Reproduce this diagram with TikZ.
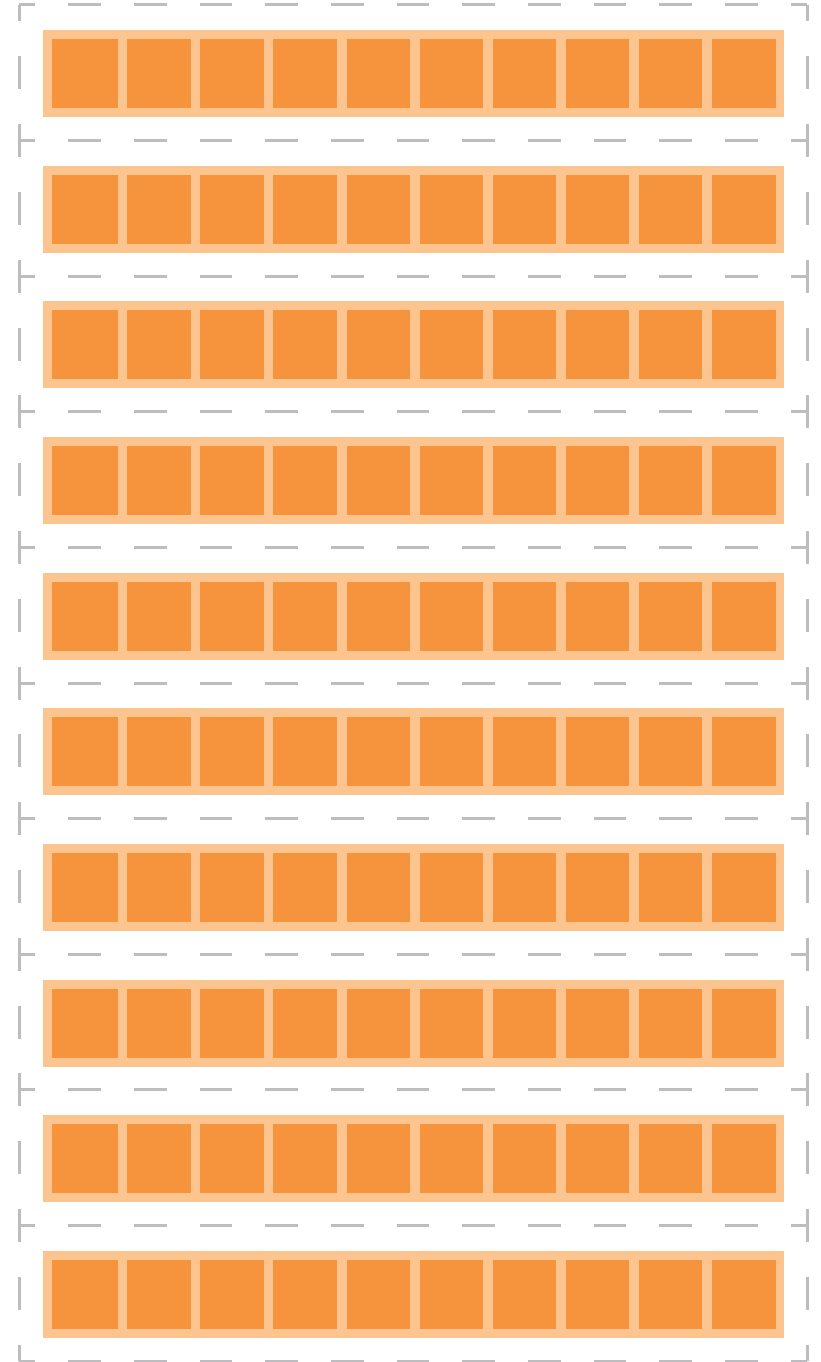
\documentclass[tikz,border=0pt]{standalone}
\definecolor{gridgray}{RGB}{189,189,192}
\definecolor{cellfill}{RGB}{245,148,61}
\definecolor{cellband}{RGB}{252,197,143}
\begin{document}
\begin{tikzpicture}[x=1pt,y=-1pt,
  hdash/.style={draw=gridgray,line width=3pt,dash pattern=on 32.8pt off 32.87pt,dash phase=16.4pt},
  vdash/.style={draw=gridgray,line width=3pt,dash pattern=on 33pt off 34.8pt,dash phase=16.5pt},
  band/.style={fill=cellband},
  cellsq/.style={fill=cellfill}]
\useasboundingbox (0,0) rectangle (821,1362);
\foreach \k in {0,...,10} {
  \draw[hdash] (19,{5+135.6*\k}) -- (807,{5+135.6*\k});
}
\foreach \k in {0,...,9} {
  \draw[vdash] (19,{5+135.6*\k}) -- (19,{5+135.6*(\k+1)});
  \draw[vdash] (807,{5+135.6*\k}) -- (807,{5+135.6*(\k+1)});
}
\foreach \k in {0,...,9} {
  \pgfmathsetmacro\t{30+135.67*\k}
  \fill[band] (43,\t) rectangle (784,{\t+87});
  \foreach \l/\r in {52/118,127/191,200/264,273/337,347/410,420/483,493/556,566/629,639/702,712/776} {
    \fill[cellsq] (\l,{\t+9}) rectangle (\r,{\t+78});
  }
}
\end{tikzpicture}
\end{document}
